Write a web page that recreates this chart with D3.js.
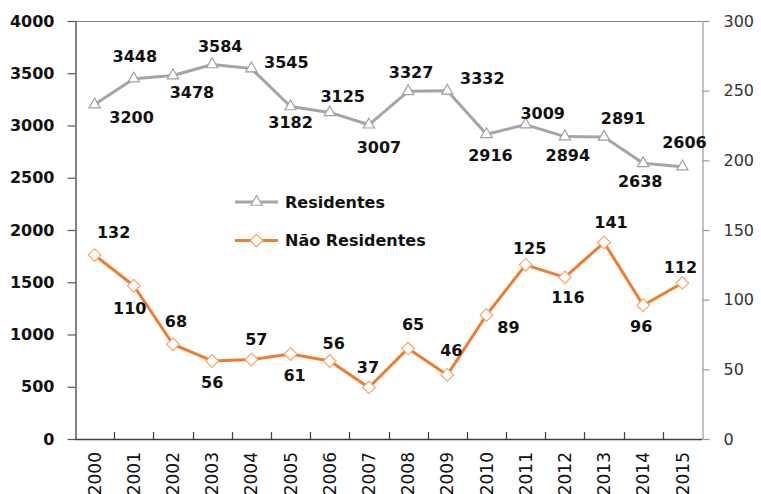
<!DOCTYPE html>
<html>
<head>
<meta charset="utf-8">
<script src="https://cdn.jsdelivr.net/npm/d3@7"></script>
<style>
  html, body { margin: 0; padding: 0; background: #fff; }
  svg { display: block; font-family: "DejaVu Sans", Verdana, sans-serif; }
</style>
</head>
<body>
<div id="chart"></div>
<script>
//data
const years = ['2000','2001','2002','2003','2004','2005','2006','2007','2008','2009','2010','2011','2012','2013','2014','2015'];
const residentes = [3200, 3448, 3478, 3584, 3545, 3182, 3125, 3007, 3327, 3332, 2916, 3009, 2894, 2891, 2638, 2606];
const naoResidentes = [132, 110, 68, 56, 57, 61, 56, 37, 65, 46, 89, 125, 116, 141, 96, 112];
const leftTicks = [0, 500, 1000, 1500, 2000, 2500, 3000, 3500, 4000];
const rightTicks = [0, 50, 100, 150, 200, 250, 300];

//layout
const CONSTANTS = {
    WIDTH: 761,
    HEIGHT: 494,
    LEFT: 75,    //left edge of plot area
    RIGHT: 702,  //right edge of plot area
    TOP: 21,     //top edge of plot area
    BOTTOM: 439  //bottom edge of plot area
};

//label offsets from their point [dx, dy]
const resLabelOffset = [[37,13],[1,-22],[19,17],[8,-18],[35,-6],[0,16],[13,-16],[10,22],[3,-19],[35,-13],[4,21],[17,-11],[3,19],[19,-19],[-3,18],[2,-24]];
const naoLabelOffset = [[19,-23],[-4,23],[3,-23],[0,21],[5,-20],[4,21],[4,-18],[-1,-20],[5,-24],[4,-25],[22,12],[4,-17],[3,20],[7,-20],[-2,21],[-2,-16]];

const GREY = '#a5a5a5';
const ORANGE = '#ed7d31';

const svg = d3.select('#chart')
    .append('svg')
    .attr('width', CONSTANTS.WIDTH)
    .attr('height', CONSTANTS.HEIGHT);

//scales
const x = d3.scaleBand()
    .domain(years)
    .range([CONSTANTS.LEFT, CONSTANTS.RIGHT]);
const yLeft = d3.scaleLinear().domain([0, 4000]).range([CONSTANTS.BOTTOM, CONSTANTS.TOP]);
const yRight = d3.scaleLinear().domain([0, 300]).range([CONSTANTS.BOTTOM, CONSTANTS.TOP]);
const cx = d => x(d) + x.bandwidth() / 2;

//plot frame (top)
svg.append('line')
    .attr('x1', CONSTANTS.LEFT).attr('x2', CONSTANTS.RIGHT)
    .attr('y1', CONSTANTS.TOP + 0.5).attr('y2', CONSTANTS.TOP + 0.5)
    .attr('stroke', '#8c8c8c').attr('stroke-width', 1.2);

//left axis
const leftAxis = svg.append('g')
    .attr('transform', 'translate(' + (CONSTANTS.LEFT + 0.5) + ',0)')
    .call(d3.axisLeft(yLeft).tickValues(leftTicks).tickFormat(d3.format('d')).tickSize(8).tickPadding(13).tickSizeOuter(0));
leftAxis.select('.domain').attr('stroke', '#595959').attr('stroke-width', 1.5);
leftAxis.selectAll('.tick line').attr('stroke', '#595959').attr('stroke-width', 1.2);
leftAxis.selectAll('.tick text')
    .attr('font-size', 16).attr('font-weight', 'bold').attr('fill', '#111')
    .attr('font-family', '"DejaVu Sans", Verdana, sans-serif');

//right axis
const rightAxis = svg.append('g')
    .attr('transform', 'translate(' + (CONSTANTS.RIGHT + 0.5) + ',0)')
    .call(d3.axisRight(yRight).tickValues(rightTicks).tickFormat(d3.format('d')).tickSize(7).tickPadding(14).tickSizeOuter(0));
rightAxis.select('.domain').attr('stroke', '#999').attr('stroke-width', 1.2);
rightAxis.selectAll('.tick line').attr('stroke', '#999').attr('stroke-width', 1.2);
rightAxis.selectAll('.tick text')
    .attr('font-size', 16).attr('fill', '#333')
    .attr('font-family', '"DejaVu Sans", Verdana, sans-serif');

//bottom axis: line + inward ticks at category boundaries
const bottom = svg.append('g').attr('class', 'x-axis');
bottom.append('line')
    .attr('x1', CONSTANTS.LEFT).attr('x2', CONSTANTS.RIGHT)
    .attr('y1', CONSTANTS.BOTTOM + 0.5).attr('y2', CONSTANTS.BOTTOM + 0.5)
    .attr('stroke', '#404040').attr('stroke-width', 1.5);
bottom.selectAll('line.tick')
    .data(years.slice(1))
    .enter()
    .append('line')
    .attr('class', 'tick')
    .attr('x1', d => Math.round(x(d)) + 0.5).attr('x2', d => Math.round(x(d)) + 0.5)
    .attr('y1', CONSTANTS.BOTTOM - 7).attr('y2', CONSTANTS.BOTTOM)
    .attr('stroke', '#404040').attr('stroke-width', 1.2);
bottom.selectAll('text')
    .data(years)
    .enter()
    .append('text')
    .attr('transform', d => 'translate(' + cx(d) + ',' + (CONSTANTS.BOTTOM + 13) + ') rotate(-90)')
    .attr('text-anchor', 'end')
    .attr('dy', '0.36em')
    .attr('font-size', 17)
    .attr('fill', '#111')
    .text(d => d);

//series
function drawSeries(values, yScale, color, markerStroke, symbol, symSize, rotate, offsets) {
    const line = d3.line()
        .x((d, i) => cx(years[i]))
        .y(d => yScale(d));
    svg.append('path')
        .datum(values)
        .attr('d', line)
        .attr('fill', 'none')
        .attr('stroke', color)
        .attr('stroke-width', 3)
        .attr('stroke-linejoin', 'round');

    svg.append('g').selectAll('path')
        .data(values)
        .enter()
        .append('path')
        .attr('d', d3.symbol().type(symbol).size(symSize))
        .attr('transform', (d, i) => 'translate(' + cx(years[i]) + ',' + yScale(d) + ') rotate(' + rotate + ')')
        .attr('fill', '#fff')
        .attr('stroke', markerStroke)
        .attr('stroke-width', 1.2);

    svg.append('g').selectAll('text')
        .data(values)
        .enter()
        .append('text')
        .attr('x', (d, i) => cx(years[i]) + offsets[i][0])
        .attr('y', (d, i) => yScale(d) + offsets[i][1])
        .attr('dy', '0.36em')
        .attr('text-anchor', 'middle')
        .attr('font-size', 16)
        .attr('font-weight', 'bold')
        .attr('fill', '#111')
        .text(d => d);
}

drawSeries(residentes, yLeft, GREY, '#a0a0a0', d3.symbolTriangle, 55, 0, resLabelOffset);
drawSeries(naoResidentes, yRight, ORANGE, '#f4a672', d3.symbolSquare, 80, 45, naoLabelOffset);

//legend
const legendItems = [
    {name: 'Residentes', color: GREY, stroke: '#a0a0a0', symbol: d3.symbolTriangle, size: 55, rotate: 0},
    {name: 'Não Residentes', color: ORANGE, stroke: '#f4a672', symbol: d3.symbolSquare, size: 80, rotate: 45}
];
const legend = svg.append('g');
legendItems.forEach((item, i) => {
    let ly = 202 + i * 38.5;
    legend.append('line')
        .attr('x1', 235).attr('x2', 278)
        .attr('y1', ly).attr('y2', ly)
        .attr('stroke', item.color).attr('stroke-width', 3);
    legend.append('path')
        .attr('d', d3.symbol().type(item.symbol).size(item.size))
        .attr('transform', 'translate(256.5,' + ly + ') rotate(' + item.rotate + ')')
        .attr('fill', '#fff')
        .attr('stroke', item.stroke)
        .attr('stroke-width', 1.2);
    legend.append('text')
        .attr('x', 285).attr('y', ly)
        .attr('dy', '0.36em')
        .attr('font-size', 16)
        .attr('font-weight', 'bold')
        .attr('fill', '#111')
        .text(item.name);
});
</script>
</body>
</html>
